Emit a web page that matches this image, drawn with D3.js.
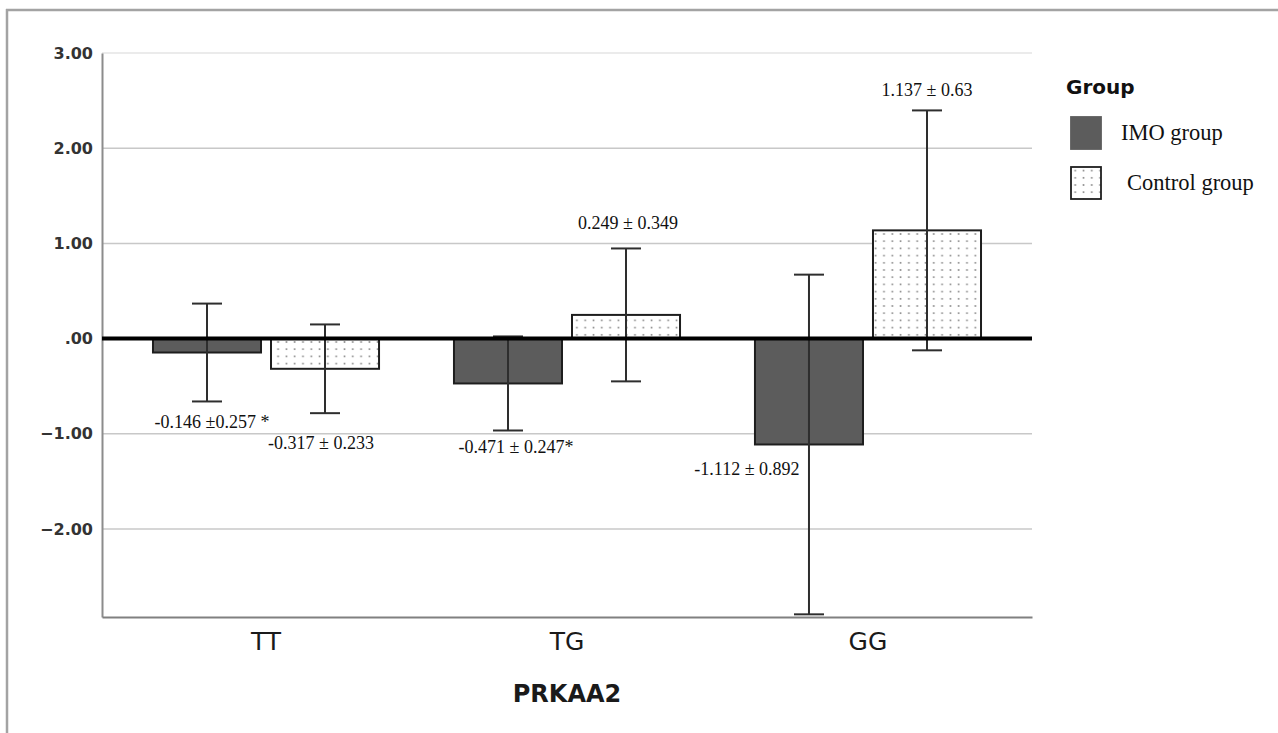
<!DOCTYPE html>
<html>
<head>
<meta charset="utf-8">
<script src="https://cdn.jsdelivr.net/npm/d3@7"></script>
<style>
  body { margin: 0; background: #fff; }
  svg { display: block; }
</style>
</head>
<body>
<div id="chart-container"></div>
<script>
// PRKAA2 genotype means, error bars are +/- 2 SE
const genotypes = ["TT", "TG", "GG"]
const groups = ["IMO group", "Control group"]
const imoMean = [-0.146, -0.471, -1.112]
const imoSE = [0.257, 0.247, 0.892]
const controlMean = [-0.317, 0.249, 1.137]
const controlSE = [0.233, 0.349, 0.63]
const imoLabels = ["-0.146 ±0.257 *", "-0.471 ± 0.247*", "-1.112 ± 0.892"]
const controlLabels = ["-0.317 ± 0.233", "0.249 ± 0.349", "1.137 ± 0.63"]
const yTicks = [3, 2, 1, 0, -1, -2]
const yDomain = [-2.924, 3]

// where each value label sits relative to its bar
const imoLabelPos = [{at: "low", dx: 5, dy: 27}, {at: "low", dx: 8, dy: 23}, {at: "mean", dx: -62, dy: 31}]
const controlLabelPos = [{at: "low", dx: -4, dy: 36}, {at: "high", dx: 2, dy: -19}, {at: "high", dx: 0, dy: -14}]

const W = 1278, H = 733
const plot = {left: 102, right: 1032, top: 53, bottom: 617}

const svg = d3.select("#chart-container")
    .append("svg")
    .attr("width", W)
    .attr("height", H)

// dotted fill for the control bars
const defs = svg.append("defs")
const pat = defs.append("pattern")
    .attr("id", "dots")
    .attr("patternUnits", "userSpaceOnUse")
    .attr("width", 8.3)
    .attr("height", 7.2)
pat.append("rect").attr("width", 8.3).attr("height", 7.2).attr("fill", "#fff")
pat.append("circle").attr("cx", 4.2).attr("cy", 3.6).attr("r", 1).attr("fill", "#8a8a8a")

// outer frame (left + top edges only are visible)
svg.append("line").attr("x1", 7).attr("x2", 7).attr("y1", 9).attr("y2", H)
    .attr("stroke", "#a3a3a3").attr("stroke-width", 2.5)
svg.append("line").attr("x1", 6).attr("x2", W).attr("y1", 10).attr("y2", 10)
    .attr("stroke", "#a3a3a3").attr("stroke-width", 2.5)

const x0 = d3.scaleBand()
    .domain(genotypes)
    .range([plot.left, plot.right])
    .paddingInner(0.249)
    .paddingOuter(0.1694)

const x1 = d3.scaleBand()
    .domain(groups)
    .range([0, x0.bandwidth()])
    .paddingInner(0.0847)

const y = d3.scaleLinear()
    .domain(yDomain)
    .range([plot.bottom, plot.top])

// gridlines
svg.append("g")
    .selectAll("line")
    .data(yTicks.filter(d => d !== 0))
    .join("line")
    .attr("x1", plot.left)
    .attr("x2", plot.right)
    .attr("y1", d => y(d))
    .attr("y2", d => y(d))
    .attr("stroke", d => d === 3 ? "#e4e4e4" : "#c8c8c8")
    .attr("stroke-width", 1.5)

// y axis
svg.append("g")
    .attr("transform", `translate(${plot.left},0)`)
    .call(d3.axisLeft(y)
        .tickValues(yTicks)
        .tickSize(0)
        .tickPadding(9)
        .tickFormat(d => d === 0 ? ".00" : d3.format(".2f")(d)))
    .call(g => g.select(".domain").attr("stroke", "#8c8c8c").attr("stroke-width", 2))
    .selectAll(".tick text")
    .attr("font-family", "DejaVu Sans")
    .attr("font-weight", "bold")
    .attr("font-size", 16)
    .attr("fill", "#333")

// x axis
svg.append("g")
    .attr("transform", `translate(0,${plot.bottom})`)
    .call(d3.axisBottom(x0).tickSize(0).tickPadding(15).tickSizeOuter(0))
    .call(g => g.select(".domain").attr("stroke", "#808080").attr("stroke-width", 2))
    .selectAll(".tick text")
    .attr("font-family", "DejaVu Sans")
    .attr("font-size", 25)
    .attr("fill", "#1a1a1a")

svg.append("text")
    .attr("x", (plot.left + plot.right) / 2)
    .attr("y", 702)
    .attr("text-anchor", "middle")
    .attr("font-family", "DejaVu Sans")
    .attr("font-weight", "bold")
    .attr("font-size", 24)
    .attr("fill", "#1a1a1a")
    .text("PRKAA2")

const rows = []
genotypes.forEach((g, i) => {
    rows.push({geno: g, group: groups[0], mean: imoMean[i], se: imoSE[i], label: imoLabels[i], pos: imoLabelPos[i]})
    rows.push({geno: g, group: groups[1], mean: controlMean[i], se: controlSE[i], label: controlLabels[i], pos: controlLabelPos[i]})
})
const cx = d => x0(d.geno) + x1(d.group) + x1.bandwidth() / 2

// bars
svg.append("g")
    .selectAll("rect")
    .data(rows)
    .join("rect")
    .attr("x", d => x0(d.geno) + x1(d.group))
    .attr("width", x1.bandwidth())
    .attr("y", d => y(Math.max(0, d.mean)))
    .attr("height", d => Math.abs(y(d.mean) - y(0)))
    .attr("fill", d => d.group === groups[0] ? "#5c5c5c" : "url(#dots)")
    .attr("stroke", "#1e1e1e")
    .attr("stroke-width", 2)

// error bars
const err = svg.append("g")
    .attr("stroke", "#2e2e2e")
    .attr("stroke-width", 2)
    .selectAll("g")
    .data(rows)
    .join("g")
err.append("line")
    .attr("x1", cx).attr("x2", cx)
    .attr("y1", d => y(d.mean + 2 * d.se))
    .attr("y2", d => y(d.mean - 2 * d.se))
err.append("line")
    .attr("x1", d => cx(d) - 15).attr("x2", d => cx(d) + 15)
    .attr("y1", d => y(d.mean + 2 * d.se))
    .attr("y2", d => y(d.mean + 2 * d.se))
err.append("line")
    .attr("x1", d => cx(d) - 15).attr("x2", d => cx(d) + 15)
    .attr("y1", d => y(d.mean - 2 * d.se))
    .attr("y2", d => y(d.mean - 2 * d.se))

// zero reference line
svg.append("line")
    .attr("x1", plot.left)
    .attr("x2", plot.right)
    .attr("y1", y(0))
    .attr("y2", y(0))
    .attr("stroke", "#000")
    .attr("stroke-width", 4)

// value labels
svg.append("g")
    .selectAll("text")
    .data(rows)
    .join("text")
    .attr("x", d => cx(d) + d.pos.dx)
    .attr("y", d => {
        const v = d.pos.at === "low" ? d.mean - 2 * d.se : d.pos.at === "high" ? d.mean + 2 * d.se : d.mean
        return y(v) + d.pos.dy
    })
    .attr("text-anchor", "middle")
    .attr("font-family", "Liberation Serif")
    .attr("font-size", 18)
    .attr("fill", "#111")
    .text(d => d.label)

// legend
const legend = svg.append("g").attr("transform", "translate(1066,0)")
legend.append("text")
    .attr("x", 0)
    .attr("y", 94)
    .attr("font-family", "DejaVu Sans")
    .attr("font-weight", "bold")
    .attr("font-size", 20)
    .attr("fill", "#111")
    .text("Group")
const legendIndent = [0, 6]
const item = legend.selectAll(".item")
    .data(groups)
    .join("g")
    .attr("class", "item")
    .attr("transform", (d, i) => `translate(5,${117 + i * 50})`)
item.append("rect")
    .attr("width", 30)
    .attr("height", 32)
    .attr("fill", (d, i) => i === 0 ? "#5c5c5c" : "url(#dots)")
    .attr("stroke", (d, i) => i === 0 ? "#5c5c5c" : "#1e1e1e")
    .attr("stroke-width", 1.8)
item.append("text")
    .attr("x", (d, i) => 50 + legendIndent[i])
    .attr("y", 23)
    .attr("font-family", "Liberation Serif")
    .attr("font-size", 22.5)
    .attr("fill", "#111")
    .text(d => d)
</script>
</body>
</html>
